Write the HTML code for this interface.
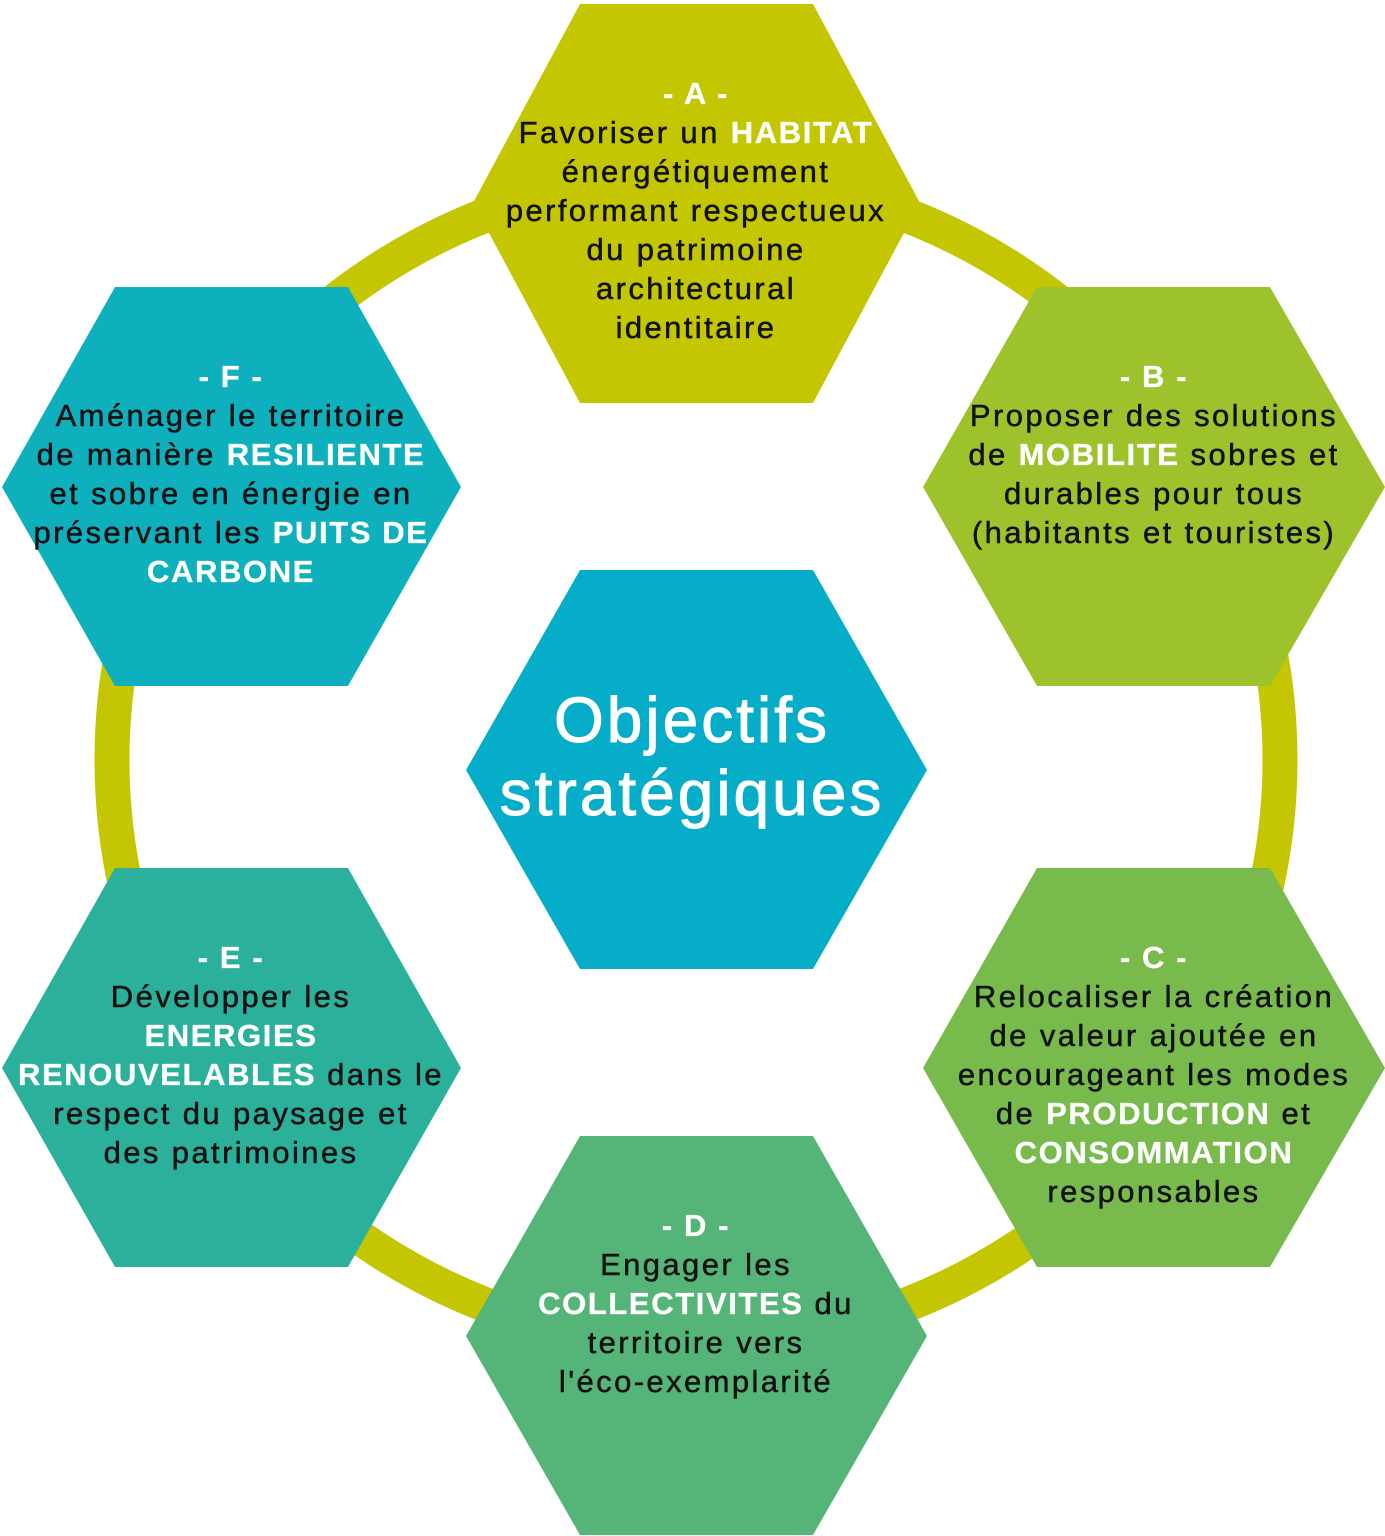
<!DOCTYPE html>
<html><head><meta charset="utf-8"><style>
html,body{margin:0;padding:0;background:#fff;}
svg{display:block;}
text{font-family:"Liberation Sans",sans-serif;font-size:31px;letter-spacing:2.4px;fill:#111;stroke:#111;stroke-width:0.5px;text-anchor:middle;}
.w,.h{fill:#fff;stroke:#fff;font-weight:bold;stroke-width:0.3px;letter-spacing:1.6px;}
</style></head><body>
<svg width="1385" height="1536" viewBox="0 0 1385 1536">
<circle cx="696" cy="760" r="584" fill="none" stroke="#c3c600" stroke-width="35"/>
<polygon points="580,4 813,4 920,203 813,403 580,403 473,203" fill="#c3c600"/>
<polygon points="115,287 348,287 461,487 348,686 115,686 2,487" fill="#0fb0bd"/>
<polygon points="1037,287 1270,287 1385,487 1270,686 1037,686 923,487" fill="#9ec22c"/>
<polygon points="115,868 348,868 461,1068 348,1267 115,1267 2,1068" fill="#2bb09c"/>
<polygon points="1037,868 1270,868 1385,1068 1270,1267 1037,1267 923,1068" fill="#78bb4c"/>
<polygon points="580,1136 813,1136 927,1336 813,1535 580,1535 466,1336" fill="#55b477"/>
<polygon points="580,570 813,570 927,770 813,969 580,969 466,770" fill="#05adc8"/>

<text x="692" y="742" style="font-size:64px;fill:#fff;stroke:#fff;stroke-width:1px;letter-spacing:3px">Objectifs</text>
<text x="692" y="815" style="font-size:64px;fill:#fff;stroke:#fff;stroke-width:1px;letter-spacing:3px">stratégiques</text>

<text x="696" y="104" class="w">- A -</text>
<text x="696" y="143">Favoriser un <tspan class="h">HABITAT</tspan></text>
<text x="696" y="182">énergétiquement</text>
<text x="696" y="221">performant respectueux</text>
<text x="696" y="260">du patrimoine</text>
<text x="696" y="299">architectural</text>
<text x="696" y="338">identitaire</text>

<text x="1154" y="387" class="w">- B -</text>
<text x="1154" y="426">Proposer des solutions</text>
<text x="1154" y="465">de <tspan class="h">MOBILITE</tspan> sobres et</text>
<text x="1154" y="504">durables pour tous</text>
<text x="1154" y="543">(habitants et touristes)</text>

<text x="231" y="387" class="w">- F -</text>
<text x="231" y="426">Aménager le territoire</text>
<text x="231" y="465">de manière <tspan class="h">RESILIENTE</tspan></text>
<text x="231" y="504">et sobre en énergie en</text>
<text x="231" y="543">préservant les <tspan class="h">PUITS DE</tspan></text>
<text x="231" y="582" class="h">CARBONE</text>

<text x="231" y="968" class="w">- E -</text>
<text x="231" y="1007">Développer les</text>
<text x="231" y="1046" class="h">ENERGIES</text>
<text x="231" y="1085"><tspan class="h">RENOUVELABLES</tspan> dans le</text>
<text x="231" y="1124">respect du paysage et</text>
<text x="231" y="1163">des patrimoines</text>

<text x="1154" y="968" class="w">- C -</text>
<text x="1154" y="1007">Relocaliser la création</text>
<text x="1154" y="1046">de valeur ajoutée en</text>
<text x="1154" y="1085">encourageant les modes</text>
<text x="1154" y="1124">de <tspan class="h">PRODUCTION</tspan> et</text>
<text x="1154" y="1163" class="h">CONSOMMATION</text>
<text x="1154" y="1202">responsables</text>

<text x="696" y="1236" class="w">- D -</text>
<text x="696" y="1275">Engager les</text>
<text x="696" y="1314"><tspan class="h">COLLECTIVITES</tspan> du</text>
<text x="696" y="1353">territoire vers</text>
<text x="696" y="1392">l'éco-exemplarité</text>
</svg>
</body></html>
